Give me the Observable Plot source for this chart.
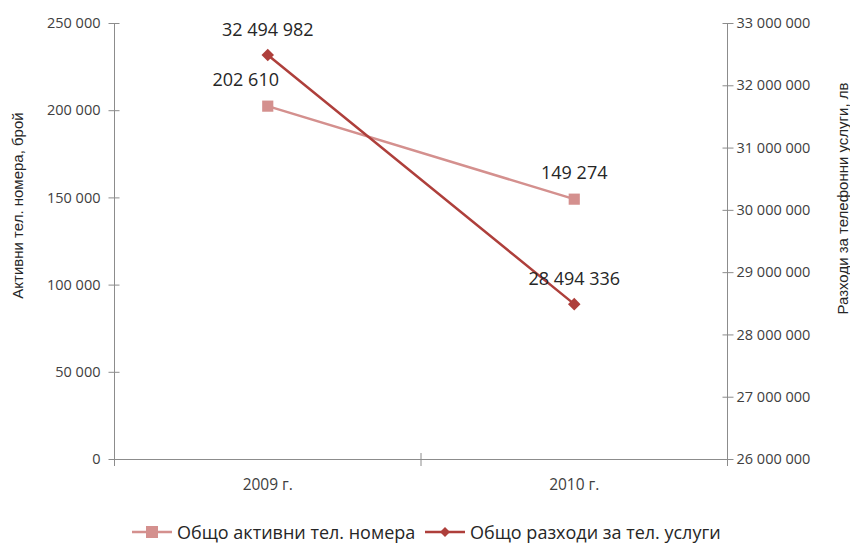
<!DOCTYPE html>
<html>
<head>
<meta charset="utf-8">
<script src="https://cdn.jsdelivr.net/npm/d3@7"></script>
<script src="https://cdn.jsdelivr.net/npm/@observablehq/plot@0.6"></script>
<style>
  body { margin: 0; background: #fff; }
  #chart { width: 850px; height: 543px; position: relative; }
  #legend { position: absolute; left: 0; top: 518px; width: 850px; height: 28px; font-family: "Open Sans", sans-serif; font-size: 18px; color: #262626; }
  .item { position: absolute; top: 0; display: flex; align-items: center; height: 28px; white-space: nowrap; }
  .item svg { margin-right: 5px; }
</style>
</head>
<body>
<div id="chart"></div>
<script>
const years = ["2009 г.", "2010 г."];
const activeNumbers = [202610, 149274];
const expenses = [32494982, 28494336];
const leftTicks = [0, 50000, 100000, 150000, 200000, 250000];
const rightTicks = [26000000, 27000000, 28000000, 29000000, 30000000, 31000000, 32000000, 33000000];
const seriesNames = ["Общо активни тел. номера", "Общо разходи за тел. услуги"];
const axisTitles = ["Активни тел. номера, брой", "Разходи за телефонни услуги, лв"];

const lightColor = "#D4908E";
const darkColor = "#AE3F3B";
const gray = "#8C8C8C";
const textColor = "#262626";

const fmt = v => d3.format(",")(v).replace(/,/g, " ");
const leftMax = d3.max(leftTicks);
const toLeft = d3.scaleLinear().domain(d3.extent(rightTicks)).range([0, leftMax]);

const activeData = years.map((y, i) => ({x: i + 0.5, v: activeNumbers[i], label: fmt(activeNumbers[i])}));
const expenseData = years.map((y, i) => ({x: i + 0.5, v: toLeft(expenses[i]), label: fmt(expenses[i])}));

const diamond = {
  draw(ctx, size) {
    const r = Math.sqrt(size / 2);
    ctx.moveTo(0, -r); ctx.lineTo(r, 0); ctx.lineTo(0, r); ctx.lineTo(-r, 0); ctx.closePath();
  }
};

const plot = Plot.plot({
  width: 850,
  height: 505,
  marginLeft: 114,
  marginRight: 123,
  marginTop: 23,
  marginBottom: 46,
  style: {fontFamily: "'Open Sans', sans-serif", fontSize: "14px", color: textColor, background: "white"},
  x: {type: "linear", domain: [0, years.length], axis: null},
  y: {domain: [0, leftMax], axis: null},
  marks: [
    Plot.ruleY([0], {stroke: gray, strokeWidth: 1}),
    Plot.ruleX([0, years.length], {stroke: gray, strokeWidth: 1}),
    Plot.axisY({anchor: "left", ticks: leftTicks, tickSize: 11, dx: 5.5, tickFormat: () => "", stroke: gray, label: null}),
    Plot.axisY({anchor: "left", ticks: leftTicks, tickSize: 0, tickPadding: 14, tickFormat: fmt, fill: "#404040", fontSize: 14.5, label: null}),
    Plot.axisY({anchor: "right", ticks: rightTicks.map(toLeft), tickSize: 11, dx: -5.5, tickFormat: () => "", stroke: gray, label: null}),
    Plot.axisY({anchor: "right", ticks: rightTicks.map(toLeft), tickSize: 0, tickPadding: 9, tickFormat: (d) => fmt(Math.round(toLeft.invert(d))), fill: "#404040", fontSize: 14.5, label: null}),
    Plot.axisX({anchor: "bottom", ticks: d3.range(years.length + 1), tickSize: 13, dy: -6, tickFormat: () => "", stroke: gray, label: null}),
    Plot.text(years, {x: (d, i) => i + 0.5, y: 0, dy: 26, text: d => d, fill: "#404040", fontSize: 15.5}),
    Plot.text([axisTitles[0]], {frameAnchor: "left", textAnchor: "middle", dx: -96, dy: -36, rotate: -90, fontFamily: "'Liberation Sans', Arial, sans-serif", fontSize: 15, fill: textColor}),
    Plot.text([axisTitles[1]], {frameAnchor: "right", textAnchor: "middle", dx: 116, dy: -43, rotate: -90, fontFamily: "'Liberation Sans', Arial, sans-serif", fontSize: 15, fill: textColor}),
    Plot.line(activeData, {x: "x", y: "v", stroke: lightColor, strokeWidth: 2.5}),
    Plot.dot(activeData, {x: "x", y: "v", symbol: "square", r: 6.3, fill: lightColor, stroke: null}),
    Plot.line(expenseData, {x: "x", y: "v", stroke: darkColor, strokeWidth: 2.5}),
    Plot.dot(expenseData, {x: "x", y: "v", symbol: diamond, r: 5, fill: darkColor, stroke: null}),
    Plot.text(activeData.slice(0, 1), {x: "x", y: "v", text: "label", dy: -26, dx: -22, fontSize: 18, fill: textColor}),
    Plot.text(activeData.slice(1), {x: "x", y: "v", text: "label", dy: -26, fontSize: 18, fill: textColor}),
    Plot.text(expenseData, {x: "x", y: "v", text: "label", dy: -25, fontSize: 18, fill: textColor})
  ]
});
document.getElementById("chart").appendChild(plot);

const legend = document.createElement("div");
legend.id = "legend";
const lefts = [132, 425];
const colors = [lightColor, darkColor];
seriesNames.forEach((name, i) => {
  const item = document.createElement("div");
  item.className = "item";
  item.style.left = lefts[i] + "px";
  const marker = i === 0
    ? `<rect x="14" y="8" width="12" height="12" fill="${colors[i]}"/>`
    : `<path d="M20,9 L25,14 L20,19 L15,14 Z" fill="${colors[i]}"/>`;
  item.innerHTML = `<svg width="40" height="28"><line x1="0" x2="40" y1="14" y2="14" stroke="${colors[i]}" stroke-width="2.5"/>${marker}</svg><span>${name}</span>`;
  legend.appendChild(item);
});
document.getElementById("chart").appendChild(legend);
</script>
</body>
</html>
